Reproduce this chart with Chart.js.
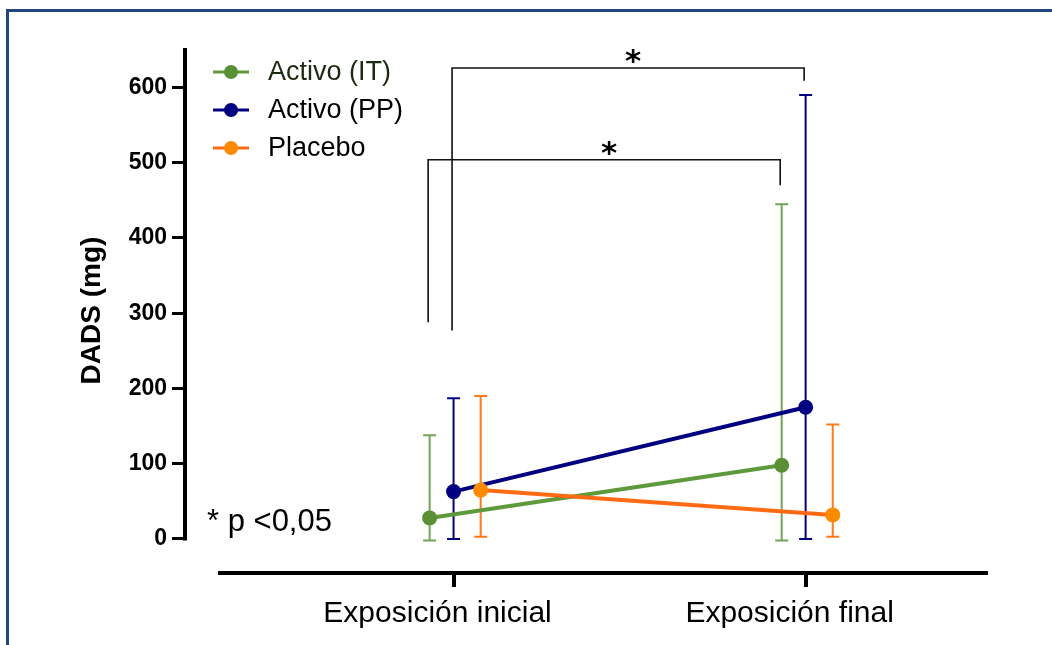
<!DOCTYPE html>
<html>
<head>
<meta charset="utf-8">
<script src="https://cdn.jsdelivr.net/npm/chart.js@4.4.0/dist/chart.umd.min.js"></script>
<style>
  html, body { margin: 0; padding: 0; background: #fff; }
  #wrap { position: relative; width: 1052px; height: 645px; }
  #frame { position: absolute; left: 6px; top: 9px; right: -10px; bottom: -10px; border-top: 3px solid #23467f; border-left: 3px solid #23467f; pointer-events: none; }
  canvas { position: absolute; left: 0; top: 0; }
</style>
</head>
<body>
<div id="wrap">
  <canvas id="chart" width="1052" height="645"></canvas>
  <div id="frame"></div>
</div>
<script>
// datos
const categories = ['Exposición inicial', 'Exposición final'];
const seriesNames = ['Activo (IT)', 'Activo (PP)', 'Placebo'];

const itMean = [28, 98];
const itLow = [-2, -2];
const itHigh = [138, 445];

const ppMean = [63, 175];
const ppLow = [0, 0];
const ppHigh = [187, 590];

const pbMean = [65, 32];
const pbLow = [3, 3];
const pbHigh = [190, 152];

const yTicks = [0, 100, 200, 300, 400, 500, 600];

// comparaciones significativas: serie, altura izquierda, altura de la barra, altura derecha
const comparisons = [
  { series: 0, leftY: 288, topY: 504, rightY: 470, label: '*' },
  { series: 1, leftY: 277, topY: 626, rightY: 609, label: '*' }
];
const pNote = '* p <0,05';

const FONT = '"Liberation Sans", Arial, sans-serif';
const offsets = [-0.068, 0, 0.077]; // desplazamiento horizontal de cada serie
const lineColors = ['#5e9a3c', '#000080', '#ff6a13'];
const pointColors = ['#5a8f33', '#000080', '#ff8a00'];
const barColors = ['#76a357', '#000080', '#ff7a1a'];

const means = [itMean, ppMean, pbMean];
const lows = [itLow, ppLow, pbLow];
const highs = [itHigh, ppHigh, pbHigh];

const datasets = seriesNames.map((name, s) => ({
  label: name,
  data: means[s].map((v, i) => ({ x: i + 1 + offsets[s], y: v })),
  borderColor: lineColors[s],
  borderWidth: 4,
  pointRadius: 7.5,
  pointHoverRadius: 7.5,
  pointBackgroundColor: pointColors[s],
  pointBorderColor: pointColors[s],
  pointBorderWidth: 0,
  order: s === 2 ? 0 : s + 1,
  tension: 0
}));

const extras = {
  id: 'extras',
  beforeDatasetsDraw(chart) {
    const ctx = chart.ctx;
    const x = chart.scales.x, y = chart.scales.y;
    ctx.save();
    // barras de error
    for (let s = 0; s < 3; s++) {
      ctx.strokeStyle = barColors[s];
      ctx.lineWidth = 2;
      for (let i = 0; i < categories.length; i++) {
        const px = x.getPixelForValue(i + 1 + offsets[s]);
        const lo = y.getPixelForValue(lows[s][i]);
        const hi = y.getPixelForValue(highs[s][i]);
        ctx.beginPath();
        ctx.moveTo(px, lo); ctx.lineTo(px, hi);
        ctx.moveTo(px - 6.5, lo); ctx.lineTo(px + 6.5, lo);
        ctx.moveTo(px - 6.5, hi); ctx.lineTo(px + 6.5, hi);
        ctx.stroke();
      }
    }
    // ejes
    ctx.strokeStyle = '#000';
    ctx.lineWidth = 4;
    const ax = chart.chartArea.left;
    ctx.beginPath();
    ctx.moveTo(ax - 1, y.getPixelForValue(0) + 1.5);
    ctx.lineTo(ax - 1, y.getPixelForValue(652.5));
    ctx.stroke();
    ctx.beginPath();
    ctx.moveTo(x.getPixelForValue(0.331), chart.chartArea.bottom);
    ctx.lineTo(chart.chartArea.right, chart.chartArea.bottom);
    ctx.stroke();
    ctx.restore();
  },
  afterDatasetsDraw(chart) {
    const ctx = chart.ctx;
    const x = chart.scales.x, y = chart.scales.y;
    ctx.save();
    // corchetes de significación
    comparisons.forEach(c => {
      const x1 = x.getPixelForValue(1 + offsets[c.series]) - 1.5;
      const x2 = x.getPixelForValue(2 + offsets[c.series]) - 1.5;
      const yt = y.getPixelForValue(c.topY);
      ctx.strokeStyle = '#111';
      ctx.lineWidth = 1.6;
      ctx.beginPath();
      ctx.moveTo(x1, y.getPixelForValue(c.leftY));
      ctx.lineTo(x1, yt);
      ctx.lineTo(x2, yt);
      ctx.lineTo(x2, y.getPixelForValue(c.rightY));
      ctx.stroke();
      ctx.fillStyle = '#000';
      ctx.font = 'bold 31px "DejaVu Sans"';
      ctx.textAlign = 'center';
      ctx.textBaseline = 'alphabetic';
      ctx.fillText(c.label, (x1 + x2) / 2 + 5, yt + 3);
    });
    // leyenda
    seriesNames.forEach((name, s) => {
      const ly = 72 + 38 * s;
      ctx.strokeStyle = lineColors[s];
      ctx.lineWidth = 3;
      ctx.beginPath();
      ctx.moveTo(213, ly); ctx.lineTo(249, ly);
      ctx.stroke();
      ctx.fillStyle = pointColors[s];
      ctx.beginPath();
      ctx.arc(231, ly, 7, 0, Math.PI * 2);
      ctx.fill();
      ctx.fillStyle = s === 0 ? '#1c2a12' : '#000';
      ctx.font = '27px ' + FONT;
      ctx.textAlign = 'left';
      ctx.textBaseline = 'middle';
      ctx.fillText(name, 268, ly + 1);
    });
    // nota de significación
    ctx.fillStyle = '#000';
    ctx.font = '31px ' + FONT;
    ctx.textAlign = 'left';
    ctx.textBaseline = 'alphabetic';
    ctx.fillText(pNote, 207, 531);
    ctx.restore();
  }
};

new Chart(document.getElementById('chart'), {
  type: 'line',
  data: { datasets },
  plugins: [extras],
  options: {
    responsive: false,
    animation: false,
    events: [],
    layout: { padding: { top: 48, right: 64, left: 0, bottom: 0 } },
    plugins: { legend: { display: false }, tooltip: { enabled: false } },
    scales: {
      x: {
        type: 'linear',
        min: 0.240,
        max: 2.518,
        afterBuildTicks: s => { s.ticks = [{ value: 1 }, { value: 2 }]; },
        afterFit: s => { s.height = 72; },
        ticks: {
          callback: v => categories[Math.round(v) - 1],
          font: { family: FONT, size: 30 },
          color: '#000',
          padding: 9,
          labelOffset: -16,
          maxRotation: 0,
          autoSkip: false
        },
        grid: { drawOnChartArea: false, drawTicks: true, tickLength: 14, lineWidth: 4, color: '#000' },
        border: { display: false }
      },
      y: {
        min: -45.2,
        max: 652.5,
        afterBuildTicks: s => { s.ticks = yTicks.map(v => ({ value: v })); },
        afterFit: s => { s.width = 186; },
        ticks: {
          font: { family: FONT, size: 23, weight: 'bold' },
          color: '#000',
          padding: 5
        },
        grid: { drawOnChartArea: false, drawTicks: true, tickLength: 14, lineWidth: 3, color: '#000' },
        border: { display: false },
        title: {
          display: true,
          text: 'DADS (mg)',
          font: { family: FONT, size: 28, weight: 'bold' },
          color: '#000',
          padding: { top: 75, bottom: 0 }
        }
      }
    }
  }
});
</script>
</body>
</html>
